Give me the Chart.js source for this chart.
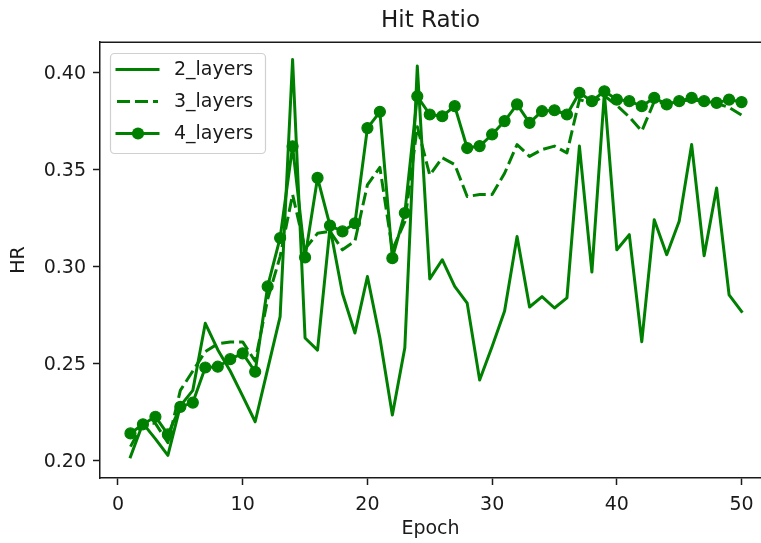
<!DOCTYPE html>
<html>
<head>
<meta charset="utf-8">
<script src="https://cdn.jsdelivr.net/npm/chart.js@4/dist/chart.umd.min.js"></script>
<style>
html,body{margin:0;padding:0;background:#fff;overflow:hidden}
#wrap{width:761px;height:543px;position:relative}
</style>
</head>
<body>
<div id="wrap"><canvas id="c"></canvas></div>
<script>
const chartTitle = 'Hit Ratio';
const xTitle = 'Epoch';
const yTitle = 'HR';
const seriesNames = ['2_layers', '3_layers', '4_layers'];
const epochs = [1,2,3,4,5,6,7,8,9,10,11,12,13,14,15,16,17,18,19,20,21,22,23,24,25,26,27,28,29,30,31,32,33,34,35,36,37,38,39,40,41,42,43,44,45,46,47,48,49,50];
const hr2Layers = [0.2017,0.2190,0.2110,0.2025,0.2280,0.2360,0.2706,0.2570,0.2460,0.2330,
  0.2198,0.2470,0.2740,0.4067,0.2630,0.2568,0.3200,0.2860,0.2656,0.2947,
  0.2630,0.2233,0.2580,0.4033,0.2935,0.3034,0.2896,0.2810,0.2413,0.2586,
  0.2770,0.3154,0.2790,0.2844,0.2785,0.2837,0.3620,0.2970,0.3895,0.3085,
  0.3163,0.2611,0.3240,0.3060,0.3232,0.3628,0.3054,0.3404,0.2853,0.2767];
const hr3Layers = [0.2070,0.2190,0.2190,0.2090,0.2360,0.2460,0.2560,0.2600,0.2610,0.2610,
  0.2510,0.2830,0.3050,0.3370,0.3090,0.3170,0.3180,0.3085,0.3130,0.3420,
  0.3510,0.3085,0.3230,0.3720,0.3470,0.3560,0.3525,0.3360,0.3370,0.3370,
  0.3480,0.3628,0.3567,0.3602,0.3620,0.3585,0.3860,0.3840,0.3880,0.3830,
  0.3770,0.3697,0.3850,0.3840,0.3850,0.3860,0.3850,0.3840,0.3820,0.3780];
const hr4Layers = [0.2138,0.2185,0.2224,0.2133,0.2275,0.2297,0.2478,0.2482,0.2521,0.2551,
  0.2456,0.2896,0.3146,0.3619,0.3046,0.3456,0.3210,0.3180,0.3222,0.3713,
  0.3797,0.3042,0.3275,0.3877,0.3783,0.3774,0.3826,0.3610,0.3620,0.3680,
  0.3749,0.3835,0.3740,0.3800,0.3805,0.3783,0.3895,0.3852,0.3903,0.3860,
  0.3852,0.3826,0.3869,0.3835,0.3852,0.3869,0.3852,0.3843,0.3860,0.3847];
const xTicks = [0, 10, 20, 30, 40, 50];
const yTicks = [0.20, 0.25, 0.30, 0.35, 0.40];

const GREEN = '#008000';
const INK = '#1a1a1a';
const FONT = "'DejaVu Sans', sans-serif";

function pts(ys) { return epochs.map((e, i) => ({x: e, y: ys[i]})); }

const framePlugin = {
  id: 'frame',
  afterDatasetsDraw(chart) {
    const {ctx, chartArea: a} = chart;
    ctx.save();
    ctx.strokeStyle = INK;
    ctx.lineWidth = 1.5;
    ctx.beginPath();
    ctx.moveTo(a.left - 0.75, a.top + 0.25);
    ctx.lineTo(a.right + 2, a.top + 0.25);
    ctx.stroke();
    ctx.restore();
  }
};

const legendPlugin = {
  id: 'boxLegend',
  afterDraw(chart) {
    const {ctx} = chart;
    const bx = 110.5, by = 53.5, bw = 155, bh = 100, r = 4;
    ctx.save();
    ctx.beginPath();
    ctx.moveTo(bx + r, by);
    ctx.arcTo(bx + bw, by, bx + bw, by + bh, r);
    ctx.arcTo(bx + bw, by + bh, bx, by + bh, r);
    ctx.arcTo(bx, by + bh, bx, by, r);
    ctx.arcTo(bx, by, bx + bw, by, r);
    ctx.closePath();
    ctx.fillStyle = 'rgba(255,255,255,0.85)';
    ctx.fill();
    ctx.strokeStyle = '#d0d0d0';
    ctx.lineWidth = 1.2;
    ctx.stroke();
    const rows = [69.5, 101.5, 133.5];
    chart.data.datasets.forEach((ds, i) => {
      const y = rows[i];
      ctx.strokeStyle = ds.borderColor;
      ctx.lineWidth = ds.borderWidth;
      ctx.setLineDash(ds.borderDash || []);
      ctx.lineCap = ds.borderDash && ds.borderDash.length ? 'butt' : 'square';
      ctx.beginPath();
      ctx.moveTo(117, y);
      ctx.lineTo(158, y);
      ctx.stroke();
      ctx.setLineDash([]);
      if (ds.pointRadius > 0) {
        ctx.fillStyle = ds.pointBackgroundColor;
        ctx.beginPath();
        ctx.arc(138, y, ds.pointRadius + 0.6, 0, Math.PI * 2);
        ctx.fill();
      }
      ctx.fillStyle = INK;
      ctx.font = '19px ' + FONT;
      ctx.textBaseline = 'middle';
      ctx.textAlign = 'left';
      ctx.fillText(ds.label, 174, y + 1);
    });
    ctx.restore();
  }
};

new Chart(document.getElementById('c'), {
  type: 'line',
  data: {
    datasets: [
      {label: seriesNames[0], data: pts(hr2Layers), borderColor: GREEN, backgroundColor: GREEN,
       borderWidth: 3, pointRadius: 0, order: 2, borderJoinStyle: 'round', borderCapStyle: 'square'},
      {label: seriesNames[1], data: pts(hr3Layers), borderColor: GREEN, backgroundColor: GREEN,
       borderWidth: 3, borderDash: [13, 5], pointRadius: 0, order: 1, borderJoinStyle: 'round', borderCapStyle: 'butt'},
      {label: seriesNames[2], data: pts(hr4Layers), borderColor: GREEN, backgroundColor: GREEN,
       borderWidth: 3, pointRadius: 5.5, pointBorderWidth: 1.2, pointBackgroundColor: GREEN,
       pointBorderColor: GREEN, order: 0, borderJoinStyle: 'round', borderCapStyle: 'square'}
    ]
  },
  options: {
    responsive: true,
    maintainAspectRatio: false,
    animation: false,
    devicePixelRatio: 1,
    layout: {autoPadding: false, padding: {left: 0, right: 0, top: 0, bottom: 0}},
    plugins: {
      legend: {display: false},
      tooltip: {enabled: false},
      title: {
        display: true, text: chartTitle, fullSize: false, color: INK,
        font: {family: FONT, size: 23, weight: 'normal'},
        padding: {top: 7, bottom: 7.4}
      }
    },
    scales: {
      x: {
        type: 'linear', min: -1.443, max: 51.56,
        afterBuildTicks: s => { s.ticks = xTicks.map(v => ({value: v})); },
        afterFit: s => { s.height = 65; s.paddingLeft = 0; s.paddingRight = 0; },
        ticks: {color: INK, font: {family: FONT, size: 19}, padding: 9, autoSkip: false, maxRotation: 0,
                callback: v => String(v)},
        grid: {drawOnChartArea: false, drawTicks: true, tickLength: 7, tickWidth: 1.5, tickColor: INK},
        border: {display: true, color: INK, width: 1.5},
        title: {display: true, text: xTitle, color: INK, font: {family: FONT, size: 19},
                padding: {top: 5.8, bottom: 3}}
      },
      y: {
        type: 'linear', min: 0.1908, max: 0.4157,
        afterBuildTicks: s => { s.ticks = yTicks.map(v => ({value: v})); },
        afterFit: s => { s.width = 100; s.paddingTop = 0; s.paddingBottom = 0; },
        ticks: {color: INK, font: {family: FONT, size: 19}, padding: 7, autoSkip: false, labelOffset: 1.5,
                callback: v => v.toFixed(2)},
        grid: {drawOnChartArea: false, drawTicks: true, tickLength: 7, tickWidth: 1.5, tickColor: INK},
        border: {display: true, color: INK, width: 1.5},
        title: {display: true, text: yTitle, color: INK, font: {family: FONT, size: 19},
                padding: {top: 7.6, bottom: 6}}
      }
    }
  },
  plugins: [framePlugin, legendPlugin]
});
</script>
</body>
</html>
